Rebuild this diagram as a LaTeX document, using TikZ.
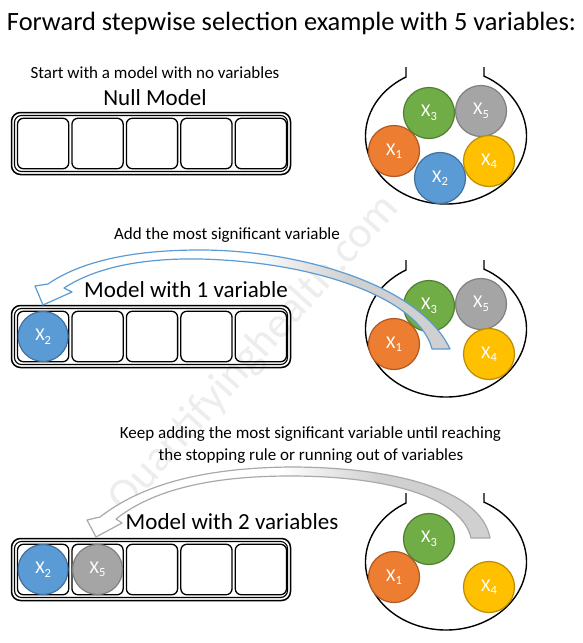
\documentclass[tikz,border=0pt]{standalone}
\usepackage{fontspec}
\setmainfont{Carlito}
\definecolor{orf}{HTML}{ED7D31}\definecolor{ord}{HTML}{AE5A21}
\definecolor{grf}{HTML}{70AD47}\definecolor{grd}{HTML}{507E32}
\definecolor{gyf}{HTML}{A5A5A5}\definecolor{gyd}{HTML}{808080}
\definecolor{blf}{HTML}{5B9BD5}\definecolor{bld}{HTML}{41719C}
\definecolor{ylf}{HTML}{FFC000}\definecolor{yld}{HTML}{BC8C00}
\definecolor{arrfill}{HTML}{D0D0D0}
\definecolor{arrblue}{HTML}{5B9BD5}
\definecolor{arrgray}{HTML}{A9A9A9}
\newcommand\xs[1]{X\raisebox{-3.5pt}{\fontsize{12.5}{12.5}\selectfont #1}}
\begin{document}
\begin{tikzpicture}[x=1pt,y=-1pt,
  ball/.style={circle, minimum size=51pt, inner sep=0pt, line width=1.2pt, text=white, font=\fontsize{18}{18}\selectfont},
  bor/.style={ball, fill=orf, draw=ord},
  bgr/.style={ball, fill=grf, draw=grd},
  bgy/.style={ball, fill=gyf, draw=gyd},
  bbl/.style={ball, fill=blf, draw=bld},
  byl/.style={ball, fill=ylf, draw=yld},
  frameo/.style={draw, rounded corners=9pt, line width=1.5pt},
  framei/.style={draw, rounded corners=7pt, line width=1.1pt},
  cell/.style={draw, rectangle, rounded corners=6pt, line width=1.3pt, minimum width=51.2pt, minimum height=50.5pt, inner sep=0pt},
  bagline/.style={line width=1.4pt, line join=miter},
  small/.style={anchor=base, font=\fontsize{17}{20}\selectfont},
  big/.style={anchor=base, font=\fontsize{23}{27}\selectfont},
  arrline/.style={line width=1.2pt, line join=round}
]
\useasboundingbox (0,0) rectangle (582,643);
\fill[white] (0,0) rectangle (582,643);

% watermark
\node[rotate=48, text=black!7, font=\fontsize{44}{44}\selectfont] (wm) at (254,354) {Quantifyinghealth.com};

% texts
\node[anchor=base, font=\fontsize{26.4}{30}\selectfont] (title) at (291.5,30) {Forward stepwise selection example with 5 variables:};
\node[small] (t1) at (155,78.5) {Start with a model with no variables};
\node[big] (m0) at (155,105.4) {Null Model};
\node[small] (t2) at (227,239.5) {Add the most significant variable};
\node[big] (m1) at (186,297.4) {Model with 1 variable};
\node[small] (t3) at (310.5,438.5) {Keep adding the most significant variable until reaching};
\node[small] (t4) at (311,460.5) {the stopping rule or running out of variables};
\node[big] (m2) at (232,529.4) {Model with 2 variables};

% rows of cells and bags
\foreach \s/\dy in {1/0,2/193,3/426}{
  \begin{scope}[yshift=-\dy pt]
    \draw[frameo] (11.5,112.5) rectangle (290.5,174.5);
    \draw[framei] (14.5,115.5) rectangle (287.5,171.5);
    \foreach \i in {1,...,5}
      \node[cell] (cell\s\i) at ({43.12+(\i-1)*54.44},143.5) {};
    \draw[bagline] (406,67) -- (406,77) arc[start angle=240.2, end angle=-61.4, x radius=80.5, y radius=68] -- (484,76.3) -- (484,67);
  \end{scope}
}

% balls section 1
\node[bgr] (a3) at (429,113) {\xs{3}};
\node[bgy] (a5) at (481,111) {\xs{5}};
\node[bor] (a1) at (394,151) {\xs{1}};
\node[bbl] (a2) at (440,178) {\xs{2}};
\node[byl] (a4) at (489,161) {\xs{4}};

% balls section 2
\node[bgr] (b3) at (429,306) {\xs{3}};
\node[bgy] (b5) at (481,304) {\xs{5}};
\node[bor] (b1) at (394,344) {\xs{1}};
\node[byl] (b4) at (489,354) {\xs{4}};
\node[bbl, minimum size=50pt] (b2) at (cell21) {\xs{2}};

% balls section 3
\node[bgr] (c3) at (429,539) {\xs{3}};
\node[bor] (c1) at (394,577) {\xs{1}};
\node[byl] (c4) at (489,587) {\xs{4}};
\node[bbl, minimum size=50pt] (c2) at (cell31) {\xs{2}};
\node[bgy, minimum size=50pt] (c5) at (cell32) {\xs{5}};

% curved arrow 1
\def\arrowone{(48,284) .. controls (80,262) and (130,250) .. (200,250) .. controls (300,250) and (420,285) .. (450,349) -- (432,349) .. controls (420,300) and (320,262) .. (200,259) .. controls (140,258) and (95,268) .. (64,288) -- (72,292) -- (43,305) -- (35,286) -- cycle}
\fill[white] \arrowone;
\begin{scope}
  \clip \arrowone;
  \shade[left color=white, right color=arrfill] (250,200) rectangle (350,360);
  \fill[arrfill] (349.5,200) rectangle (500,360);
\end{scope}
\draw[arrline, draw=arrblue] \arrowone;

% curved arrow 2
\def\arrowtwo{(100,517) .. controls (135,490) and (190,468) .. (290,467) .. controls (400,467) and (482,492) .. (490,538) -- (471,538) .. controls (462,498) and (390,476) .. (290,476) .. controls (205,476) and (150,492) .. (116,519) -- (122,523) -- (96,537) -- (87,520) -- cycle}
\fill[white] \arrowtwo;
\begin{scope}
  \clip \arrowtwo;
  \shade[left color=white, right color=arrfill] (280,440) rectangle (380,560);
  \fill[arrfill] (379.5,440) rectangle (520,560);
\end{scope}
\draw[arrline, draw=arrgray] \arrowtwo;
\end{tikzpicture}
\end{document}
